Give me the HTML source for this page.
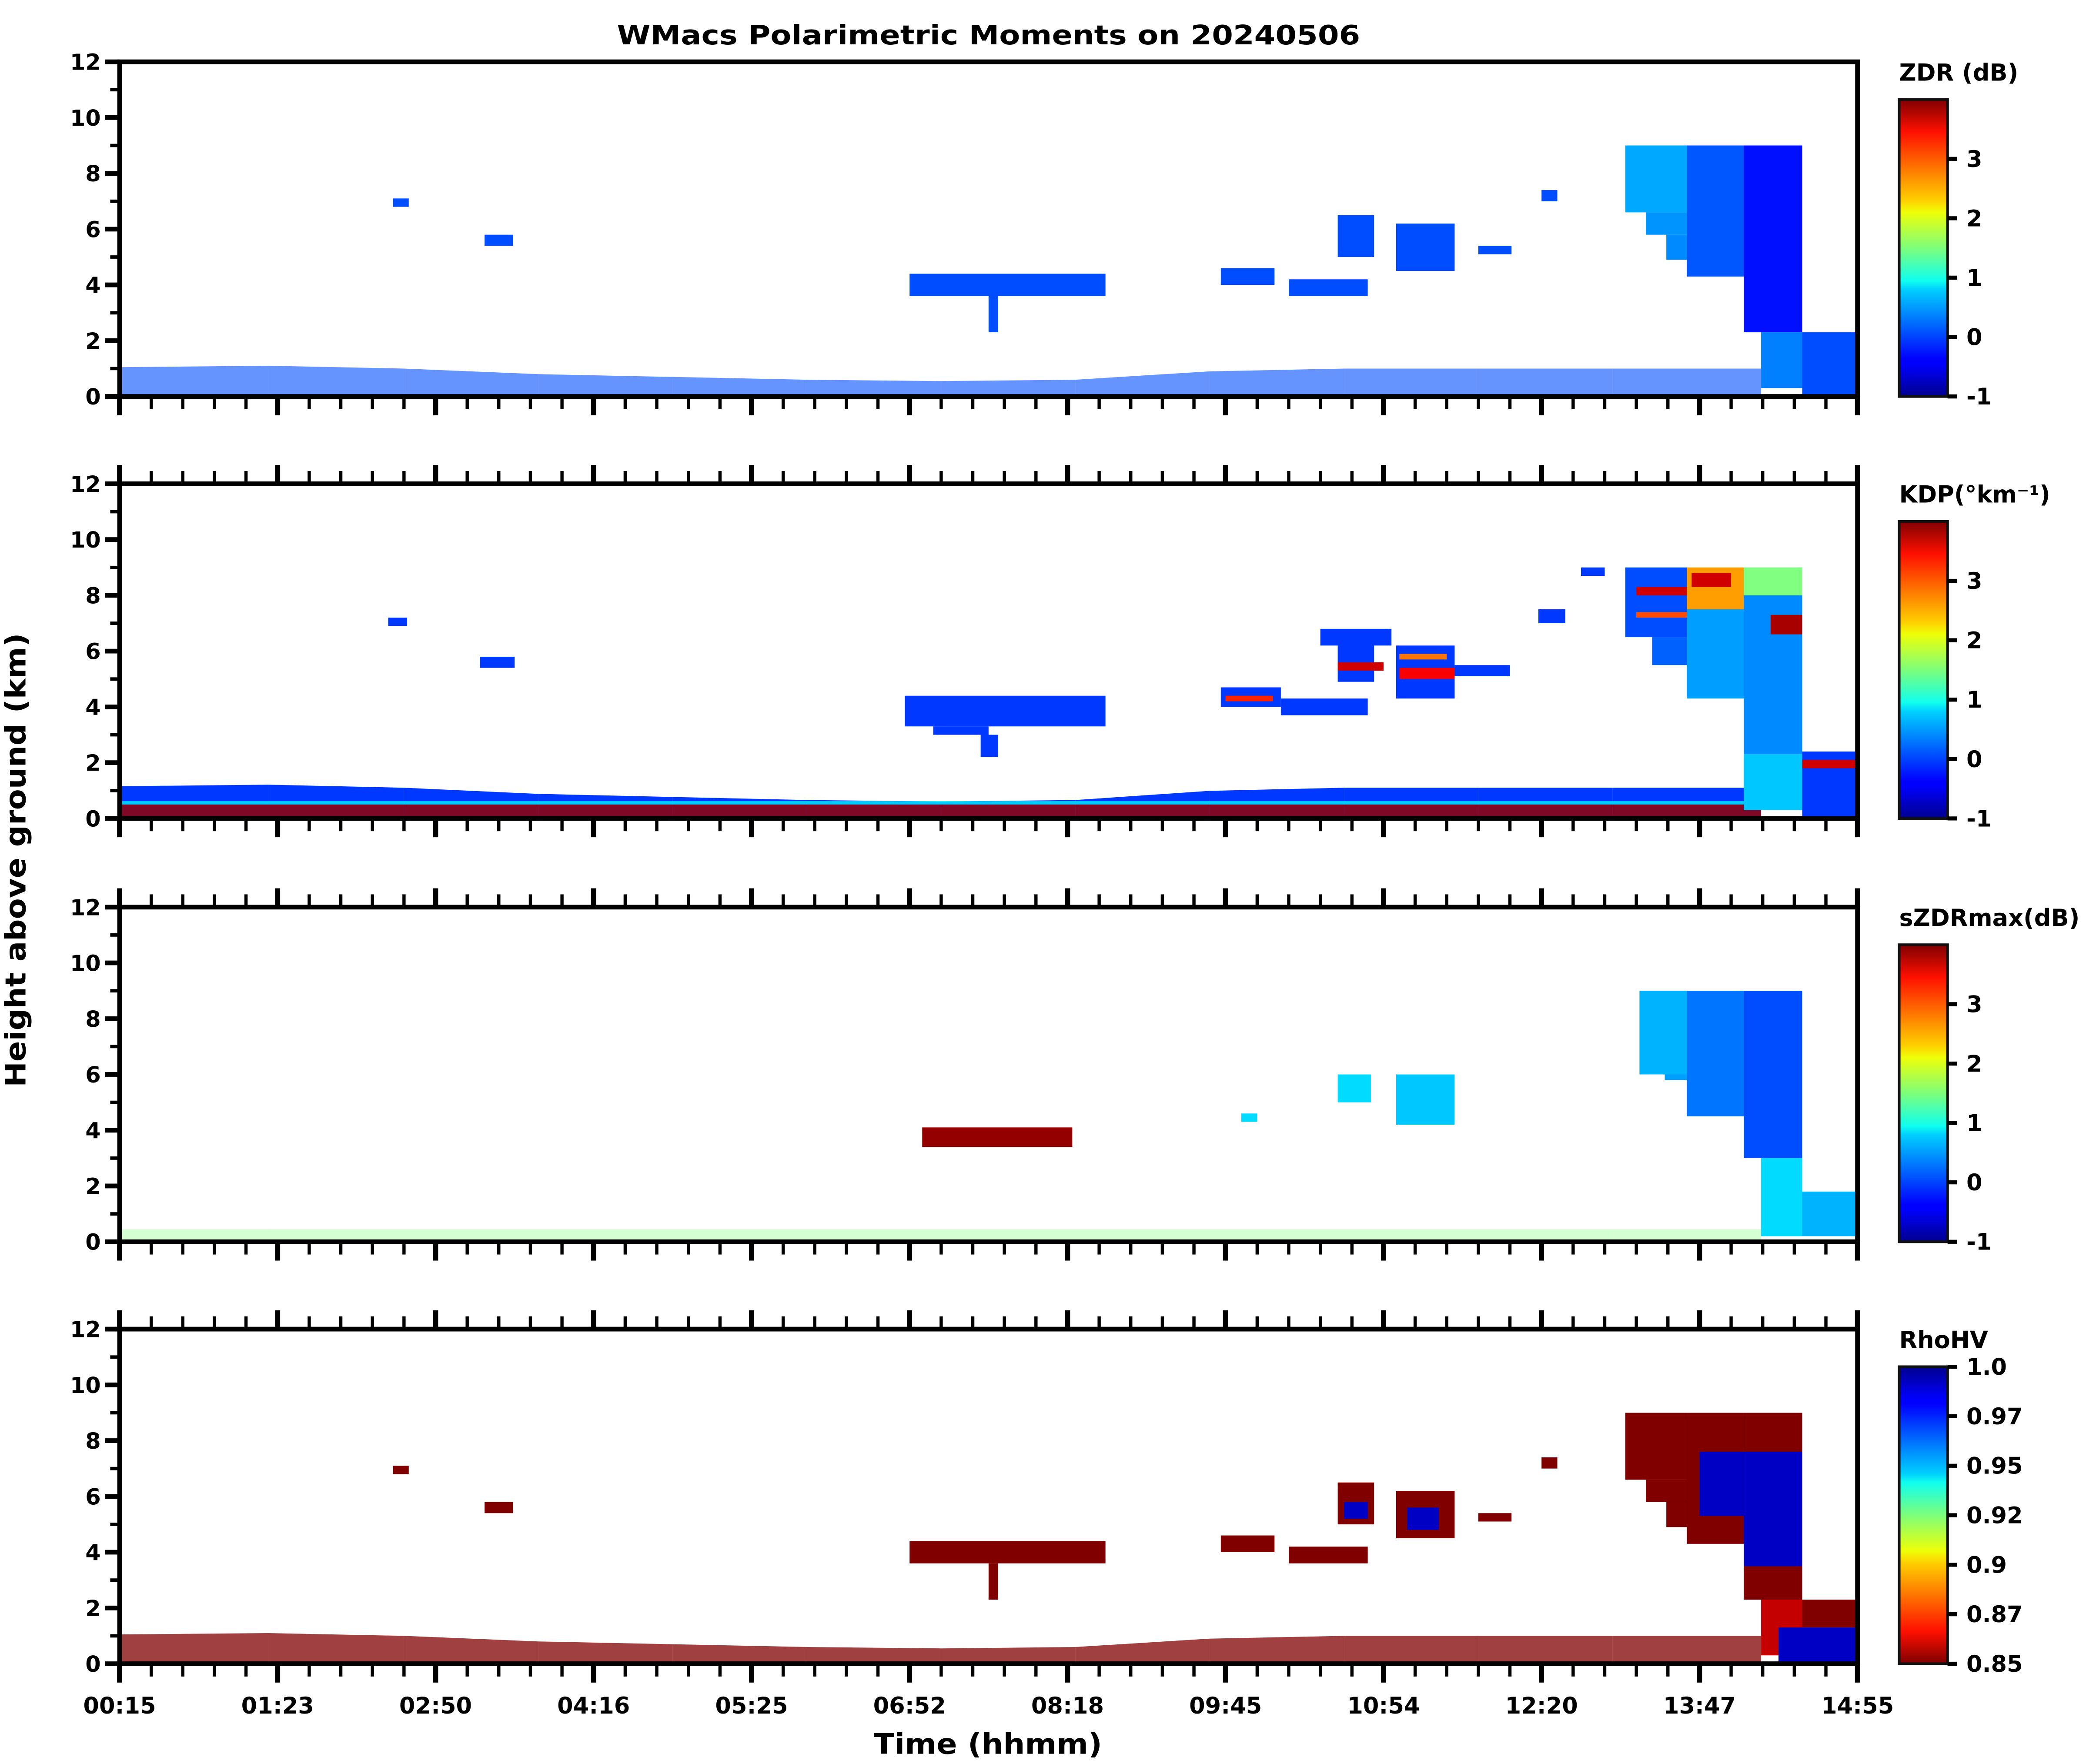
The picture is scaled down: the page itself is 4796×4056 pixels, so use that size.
<!DOCTYPE html>
<html><head><meta charset="utf-8"><style>
html,body{margin:0;padding:0;background:#fff;}
svg{display:block;}
text{font-family:"DejaVu Sans","Liberation Sans",sans-serif;font-weight:bold;fill:#000;}
</style></head><body>
<svg id="chart" xmlns="http://www.w3.org/2000/svg" width="4796" height="4056" viewBox="0 0 1552 1312.6" preserveAspectRatio="none">
<defs>
<linearGradient id="jetGrad" x1="0" y1="1" x2="0" y2="0">
<stop offset="0" stop-color="#00008f"/><stop offset="0.11" stop-color="#0000ff"/><stop offset="0.125" stop-color="#0000ff"/>
<stop offset="0.36" stop-color="#00d0ff"/><stop offset="0.39" stop-color="#10ffee"/><stop offset="0.5" stop-color="#7dff7a"/>
<stop offset="0.62" stop-color="#eeff08"/><stop offset="0.66" stop-color="#ffd000"/><stop offset="0.89" stop-color="#ff1000"/>
<stop offset="1" stop-color="#7f0000"/>
</linearGradient>
<linearGradient id="jetGradR" x1="0" y1="0" x2="0" y2="1">
<stop offset="0" stop-color="#00008f"/><stop offset="0.11" stop-color="#0000ff"/><stop offset="0.125" stop-color="#0000ff"/>
<stop offset="0.36" stop-color="#00d0ff"/><stop offset="0.39" stop-color="#10ffee"/><stop offset="0.5" stop-color="#7dff7a"/>
<stop offset="0.62" stop-color="#eeff08"/><stop offset="0.66" stop-color="#ffd000"/><stop offset="0.89" stop-color="#ff1000"/>
<stop offset="1" stop-color="#7f0000"/>
</linearGradient>
</defs>
<text x="459" y="33" font-size="20" textLength="553" lengthAdjust="spacingAndGlyphs">WMacs Polarimetric Moments on 20240506</text>
<text transform="translate(19,640) rotate(-90)" text-anchor="middle" font-size="21" textLength="338" lengthAdjust="spacingAndGlyphs">Height above ground (km)</text>
<text x="735" y="1305" text-anchor="middle" font-size="21" textLength="170" lengthAdjust="spacingAndGlyphs">Time (hhmm)</text>
<g id="panels"></g>
</svg>
<script>
// ---- data ----
const timeTickLabels = ["00:15","01:23","02:50","04:16","05:25","06:52","08:18","09:45","10:54","12:20","13:47","14:55"];
const heightTicks = [0,2,4,6,8,10,12];
const zdrTicks = [-1,0,1,2,3];
const kdpTicks = [-1,0,1,2,3];
const szdrTicks = [-1,0,1,2,3];
const rhoTicks = [0.85,0.875,0.9,0.925,0.95,0.975,1.0];
const rhoTickLabels = ["0.85","0.87","0.9","0.92","0.95","0.97","1.0"];
const panelTitles = ["ZDR (dB)","KDP(°km⁻¹)","sZDRmax(dB)","RhoHV"];
// boundary layer top (km) at time positions (tick units)
const blTime = [0,0.94,1.8,2.65,3.5,4.35,5.2,6.05,6.9,7.75,8.6,9.45,10.39];
const blTop  = [1.05,1.1,1.0,0.8,0.7,0.6,0.55,0.6,0.9,1.0,1.0,1.0,1.0];
// cells: [t0,t1,h0,h1,value] in time tick units / km
const zdrCells = [
 [1.73,1.83,6.8,7.1,0],[2.31,2.49,5.4,5.8,0],[5.0,6.24,3.6,4.4,0],[5.5,5.56,2.3,3.6,0],
 [6.97,7.31,4.0,4.6,0],[7.4,7.9,3.6,4.2,0],[7.71,7.94,5.0,6.5,0],[8.08,8.45,4.5,6.2,0],
 [8.6,8.81,5.1,5.4,0],[9.0,9.1,7.0,7.4,0],
 [9.53,9.92,6.6,9.0,0.45],[9.66,9.92,5.8,6.6,0.35],[9.79,9.92,4.9,5.8,0.3],
 [9.92,10.28,4.3,9.0,0.05],[10.28,10.65,2.3,9.0,-0.3],
 [10.39,10.65,0.3,2.3,0.25],[10.65,11,0,2.3,0.0]
];
const kdpCells = [
 [1.7,1.82,6.9,7.2,-0.1],[2.28,2.5,5.4,5.8,-0.1],[4.97,6.24,3.3,4.4,-0.1],[5.15,5.5,3.0,3.3,-0.1],[5.45,5.56,2.2,3.0,-0.1],
 [6.97,7.35,4.0,4.7,-0.1],[7.35,7.9,3.7,4.3,-0.1],[7.71,7.94,4.9,6.6,-0.1],[7.6,8.05,6.2,6.8,-0.1],[8.08,8.45,4.3,6.2,-0.1],
 [8.45,8.8,5.1,5.5,-0.1],[8.98,9.15,7.0,7.5,-0.1],[9.25,9.4,8.7,9.0,-0.1],
 [7.71,8.0,5.3,5.6,3.6],[8.1,8.45,5.0,5.4,3.4],[8.1,8.4,5.7,5.9,2.8],[7.0,7.3,4.2,4.4,3.2],
 [9.53,9.92,6.5,9.0,0.0],[9.6,9.92,8.0,8.3,3.6],[9.6,9.92,7.2,7.4,3.0],[9.7,9.92,5.5,6.5,0.1],
 [9.92,10.28,4.3,7.5,0.4],[9.92,10.28,7.5,9.0,2.6],[9.95,10.2,8.3,8.8,3.6],
 [10.28,10.65,2.3,8.0,0.3],[10.28,10.65,8.0,9.0,1.5],[10.45,10.65,6.6,7.3,3.8],
 [10.28,10.65,0.3,2.3,0.6],[10.65,11,0,2.4,-0.1],[10.65,11,1.8,2.1,3.6]
];
const szdrCells = [
 [5.08,6.03,3.4,4.1,3.9],[7.1,7.2,4.3,4.6,0.7],[7.71,7.92,5.0,6.0,0.7],[8.08,8.45,4.2,6.0,0.6],
 [9.62,9.92,6.0,9.0,0.5],[9.78,9.92,5.8,6.0,0.4],
 [9.92,10.28,4.5,9.0,0.2],[10.28,10.65,3.0,9.0,0.0],
 [10.39,10.65,0.2,3.0,0.7],[10.65,11,0.2,1.8,0.5]
];
const rhoCells = [
 [1.73,1.83,6.8,7.1,0.85],[2.31,2.49,5.4,5.8,0.85],[5.0,6.24,3.6,4.4,0.85],[5.5,5.56,2.3,3.6,0.85],
 [6.97,7.31,4.0,4.6,0.85],[7.4,7.9,3.6,4.2,0.85],[7.71,7.94,5.0,6.5,0.85],[8.08,8.45,4.5,6.2,0.85],
 [8.6,8.81,5.1,5.4,0.85],[9.0,9.1,7.0,7.4,0.85],[7.75,7.9,5.2,5.8,0.99],[8.15,8.35,4.8,5.6,0.99],
 [9.53,9.92,6.6,9.0,0.85],[9.66,9.92,5.8,6.6,0.85],[9.79,9.92,4.9,5.8,0.85],
 [9.92,10.28,4.3,9.0,0.85],[10.0,10.28,5.3,7.6,0.99],
 [10.28,10.65,2.3,9.0,0.85],[10.28,10.65,3.5,7.6,0.99],
 [10.39,10.65,0.3,2.3,0.86],[10.65,11,1.3,2.3,0.85],[10.5,11,0,1.3,0.99]
];
// ---- layout ----
const X0=89, X1=1382, PH=249, panelTops=[46,360,675,989], CBX=1413, CBW=36, CBTOP=28;
const NS="http://www.w3.org/2000/svg";
const root=document.getElementById('panels');
function el(tag,attrs,parent){const e=document.createElementNS(NS,tag);for(const k in attrs)e.setAttribute(k,attrs[k]);(parent||root).appendChild(e);return e;}
function jet(t){t=Math.max(0,Math.min(1,t));
 const c=v=>Math.round(255*Math.max(0,Math.min(1,v)));
 const r=Math.min(4*t-1.5,-4*t+4.5),g=Math.min(4*t-0.5,-4*t+3.5),b=Math.min(4*t+0.5,-4*t+2.5);
 return `rgb(${c(r)},${c(g)},${c(b)})`;}
const xScale=u=>X0+u*(X1-X0)/11;
const panels=[
 {cells:zdrCells,lo:-1,hi:4,rev:false,ticks:zdrTicks,labels:zdrTicks.map(String),bl:[[0,1,0,0.0,0.6]],name:'zdr'},
 {cells:kdpCells,lo:-1,hi:4,rev:false,ticks:kdpTicks,labels:kdpTicks.map(String),bl:[[0,1.1,0,-0.1,1],[0,0.5,0,3.9,0.85],[0.5,0.62,0,0.8,0.8]],name:'kdp'},
 {cells:szdrCells,lo:-1,hi:4,rev:false,ticks:szdrTicks,labels:szdrTicks.map(String),bl:[[0,0.45,0,1.5,0.35]],name:'szdrmax'},
 {cells:rhoCells,lo:0.85,hi:1.0,rev:true,ticks:rhoTicks,labels:rhoTickLabels,bl:[[0,1,0,0.85,0.75]],name:'rhohv'}
];
panels.forEach((p,i)=>{
 const top=panelTops[i], bot=top+PH;
 const yScale=h=>bot-h/12*PH;
 const tOf=v=>(v-p.lo)/(p.hi-p.lo);
 const col=v=>jet(p.rev?1-tOf(v):tOf(v));
 const g=el('g',{});
 
 
 p.bl.forEach(spec=>{
  const [mode,frac,,val,op]=spec;
  for(let k=0;k<blTime.length-1;k++){
   const hTop = mode===0 && frac>0.7 ? blTop[k]*frac : frac;
   const hTop2 = mode===0 && frac>0.7 ? blTop[k+1]*frac : frac;
   const hBot = mode;
   const x0=xScale(blTime[k]),x1=xScale(blTime[k+1]);
   const pts=`${x0},${yScale(hBot)} ${x1},${yScale(hBot)} ${x1},${yScale(hTop2)} ${x0},${yScale(hTop)}`;
   const poly=el('polygon',{points:pts,fill:col(val),'fill-opacity':op},g);
   
   
  }
 });
 p.cells.forEach(c=>{
  const [t0,t1,h0,h1,v]=c;
  const r=el('rect',{x:xScale(t0),y:yScale(h1),width:xScale(t1)-xScale(t0),height:yScale(h0)-yScale(h1),fill:col(v)},g);
  
  
 });
 const fr=el('rect',{x:X0,y:top,width:X1-X0,height:PH,fill:'none',stroke:'#000','stroke-width':3.5},g);
 
 
 for(let h=0;h<=12;h++){
  const major=h%2===0, y=yScale(h);
  el('line',{x1:X0,x2:X0-(major?11:7),y1:y,y2:y,stroke:'#000','stroke-width':major?3.5:2.5},g);
 }
 heightTicks.forEach(h=>{
  const t=el('text',{x:X0-14,y:yScale(h)+6,'text-anchor':'end','font-size':16.5},g);
  t.textContent=String(h);
  
  
 });
 for(let k=0;k<=55;k++){
  const major=k%5===0, x=xScale(k/5);
  el('line',{x1:x,x2:x,y1:bot,y2:bot+(major?14:9.5),stroke:'#000','stroke-width':major?3.8:2.4},g);
  if(i>0) el('line',{x1:x,x2:x,y1:top,y2:top-(major?14:9.5),stroke:'#000','stroke-width':major?3.8:2.4},g);
 }
 if(i===3){
  timeTickLabels.forEach((lab,k)=>{
   const t=el('text',{x:xScale(k),y:bot+37,'text-anchor':'middle','font-size':17},g);
   t.textContent=lab;
   
   
  });
 }
 const cbTop=top+CBTOP, cbH=bot-cbTop;
 const cb=el('rect',{x:CBX,y:cbTop,width:CBW,height:cbH,fill:p.rev?'url(#jetGradR)':'url(#jetGrad)',stroke:'#111','stroke-width':2},g);
 
 
 const ct=el('text',{x:CBX,y:top+14,'font-size':17.5},g);
 ct.textContent=panelTitles[i];
 
 
 p.ticks.forEach((v,j)=>{
  const y=bot-tOf(v)*cbH;
  el('line',{x1:CBX+CBW,x2:CBX+CBW+7,y1:y,y2:y,stroke:'#000','stroke-width':3},g);
  const t=el('text',{x:CBX+CBW+14,y:y+6,'font-size':17},g);
  t.textContent=p.labels[j];
  
  
 });
});
</script>
</body></html>
